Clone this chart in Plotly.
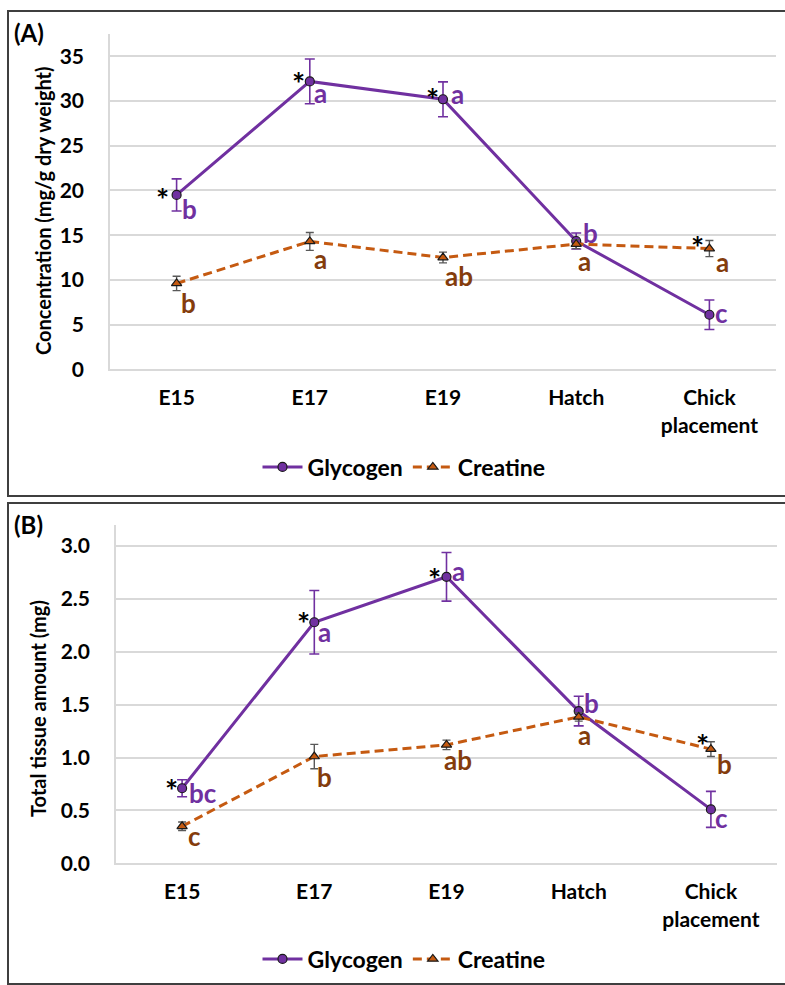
import plotly.graph_objects as go

# ---------------- data ----------------
categories = ["E15", "E17", "E19", "Hatch", "Chick placement"]
tick_labels = ["E15", "E17", "E19", "Hatch", "Chick<br>placement"]

# Panel A: concentration (mg/g dry weight)
glycogen_A = [19.5, 32.2, 30.2, 14.35, 6.1]
glycogen_A_err = [1.8, 2.5, 1.95, 0.9, 1.65]
creatine_A = [9.6, 14.3, 12.5, 14.0, 13.5]
creatine_A_err = [0.8, 1.0, 0.6, 0.5, 0.9]
glycogen_A_letters = ["b", "a", "a", "b", "c"]
creatine_A_letters = ["b", "a", "ab", "a", "a"]
glycogen_A_star = [True, True, True, False, False]
creatine_A_star = [False, False, False, False, True]

# Panel B: total tissue amount (mg)
glycogen_B = [0.71, 2.28, 2.71, 1.44, 0.51]
glycogen_B_err = [0.08, 0.30, 0.23, 0.14, 0.17]
creatine_B = [0.35, 1.01, 1.12, 1.385, 1.08]
creatine_B_err = [0.04, 0.115, 0.045, 0.04, 0.07]
glycogen_B_letters = ["bc", "a", "a", "b", "c"]
creatine_B_letters = ["c", "b", "ab", "a", "b"]
glycogen_B_star = [True, True, True, False, False]
creatine_B_star = [False, False, False, False, True]

y_ticks_A = [0, 5, 10, 15, 20, 25, 30, 35]
y_ticks_B = [0.0, 0.5, 1.0, 1.5, 2.0, 2.5, 3.0]

# ---------------- styles ----------------
W, H = 785, 985
PURPLE = "#7030A0"
ORANGE = "#C55A11"
BROWN = "#843C0C"
GRID = "#D9D9D9"
FONT = "Lato"

# label offsets (px; dx right, dy down)
gly_A_off = [(13, 14), (11, 12), (14, -5), (14, -8), (12, -2)]
cre_A_off = [(12, 20), (11, 18), (16, 18), (8, 17), (13, 13)]
gly_A_star_off = [(-14, -4), (-11, -6), (-11, -8), None, None]
cre_A_star_off = [None, None, None, None, (-12, -10)]

gly_B_off = [(21, 5), (10, 10), (12, -6), (13, -8), (11, 9)]
cre_B_off = [(12, 10), (10, 20), (11, 15), (6, 18), (14, 15)]
gly_B_star_off = [(-11, -6), (-11, -7), (-12, -6), None, None]
cre_B_star_off = [None, None, None, None, (-8, -12)]

fig = go.Figure()


def add_series(xa, ya, legend, gly, gly_err, cre, cre_err):
    fig.add_trace(go.Scatter(
        x=categories, y=gly, name="Glycogen", mode="lines+markers",
        xaxis=xa, yaxis=ya, legend=legend,
        line=dict(color=PURPLE, width=3),
        marker=dict(symbol="circle", size=9, color=PURPLE,
                    line=dict(color="#1a1a1a", width=1.2)),
        error_y=dict(type="data", array=gly_err, color=PURPLE,
                     thickness=1.6, width=5),
    ))
    fig.add_trace(go.Scatter(
        x=categories, y=cre, name="Creatine", mode="lines+markers",
        xaxis=xa, yaxis=ya, legend=legend,
        line=dict(color=ORANGE, width=3, dash="9px,5px"),
        marker=dict(symbol="triangle-up", size=9, color=ORANGE,
                    line=dict(color="#1a1a1a", width=1.2)),
        error_y=dict(type="data", array=cre_err, color="#595959",
                     thickness=1.4, width=4),
    ))


add_series("x", "y", "legend", glycogen_A, glycogen_A_err, creatine_A, creatine_A_err)
add_series("x2", "y2", "legend2", glycogen_B, glycogen_B_err, creatine_B, creatine_B_err)

annotations = []


def add_labels(xr, yr, vals, letters, offs, color):
    for c, v, t, (dx, dy) in zip(categories, vals, letters, offs):
        annotations.append(dict(
            x=c, y=v, xref=xr, yref=yr, text=t, showarrow=False,
            xanchor="center", yanchor="middle", xshift=dx, yshift=-dy,
            font=dict(family=FONT, size=26, color=color, weight="bold"),
        ))


def add_stars(xr, yr, vals, flags, offs):
    for c, v, f, o in zip(categories, vals, flags, offs):
        if f and o:
            dx, dy = o
            annotations.append(dict(
                x=c, y=v, xref=xr, yref=yr, text="*", showarrow=False,
                xanchor="center", yanchor="middle", xshift=dx, yshift=-(dy + 8),
                font=dict(family=FONT, size=31, color="black", weight="bold"),
            ))


add_labels("x", "y", glycogen_A, glycogen_A_letters, gly_A_off, PURPLE)
add_labels("x", "y", creatine_A, creatine_A_letters, cre_A_off, BROWN)
add_stars("x", "y", glycogen_A, glycogen_A_star, gly_A_star_off)
add_stars("x", "y", creatine_A, creatine_A_star, cre_A_star_off)
add_labels("x2", "y2", glycogen_B, glycogen_B_letters, gly_B_off, PURPLE)
add_labels("x2", "y2", creatine_B, creatine_B_letters, cre_B_off, BROWN)
add_stars("x2", "y2", glycogen_B, glycogen_B_star, gly_B_star_off)
add_stars("x2", "y2", creatine_B, creatine_B_star, cre_B_star_off)

# panel tags and axis titles
tag_font = dict(family=FONT, size=24, color="black", weight="bold")
title_font = dict(family=FONT, size=20, color="black", weight="bold")
annotations += [
    dict(x=29 / W, y=1 - 32 / H, xref="paper", yref="paper", text="(A)",
         showarrow=False, xanchor="center", yanchor="middle", font=tag_font),
    dict(x=28 / W, y=1 - 524 / H, xref="paper", yref="paper", text="(B)",
         showarrow=False, xanchor="center", yanchor="middle", font=tag_font),
    dict(x=43 / W, y=1 - 211 / H, xref="paper", yref="paper",
         text="Concentration (mg/g dry weight)", textangle=-90,
         showarrow=False, xanchor="center", yanchor="middle", font=title_font),
    dict(x=38 / W, y=1 - 709 / H, xref="paper", yref="paper",
         text="Total tissue amount (mg)", textangle=-90,
         showarrow=False, xanchor="center", yanchor="middle", font=title_font),
]

tick_font = dict(family=FONT, size=21, color="black", weight="bold")

xaxis_common = dict(
    type="category", range=[-0.5, 4.5], tickvals=categories, ticktext=tick_labels,
    showgrid=False, showline=True, linecolor=GRID, linewidth=1.5,
    ticks="", tickfont=tick_font, ticklabelstandoff=9, zeroline=False,
    fixedrange=True, automargin=False,
)
yaxis_common = dict(
    showgrid=True, gridcolor=GRID, gridwidth=1.5, showline=True,
    linecolor=GRID, linewidth=1.5, ticks="", tickfont=tick_font,
    ticklabelstandoff=20, zeroline=False, automargin=False,
)

legend_font = dict(family=FONT, size=23, color="black", weight="bold")

fig.update_layout(
    width=W, height=H, margin=dict(l=0, r=0, t=0, b=0, autoexpand=False),
    paper_bgcolor="white", plot_bgcolor="white",
    xaxis=dict(xaxis_common, domain=[110 / W, 776 / W], anchor="y"),
    yaxis=dict(yaxis_common, domain=[1 - 369.3 / H, 1 - 34 / H], anchor="x",
               range=[0, 37.5], tickvals=y_ticks_A,
               ticktext=[str(v) for v in y_ticks_A]),
    xaxis2=dict(xaxis_common, domain=[116 / W, 777 / W], anchor="y2"),
    yaxis2=dict(yaxis_common, domain=[1 - 863.3 / H, 1 - 525 / H], anchor="x2",
                range=[0, 3.2], tickvals=y_ticks_B,
                ticktext=[f"{v:.1f}" for v in y_ticks_B]),
    legend=dict(orientation="h", x=404 / W, y=1 - 467 / H, xanchor="center",
                yanchor="middle", font=legend_font, xref="container",
                yref="container", bgcolor="rgba(0,0,0,0)", itemwidth=40),
    legend2=dict(orientation="h", x=404 / W, y=1 - 959 / H, xanchor="center",
                 yanchor="middle", font=legend_font, xref="container",
                 yref="container", bgcolor="rgba(0,0,0,0)", itemwidth=40),
    annotations=annotations,
    shapes=[
        dict(type="rect", xref="paper", yref="paper", x0=8 / W, x1=1.01,
             y0=1 - 496 / H, y1=1 - 11 / H, line=dict(color="#3F3F3F", width=2)),
        dict(type="rect", xref="paper", yref="paper", x0=8 / W, x1=1.01,
             y0=1 - 984 / H, y1=1 - 503 / H, line=dict(color="#3F3F3F", width=2)),
    ],
    showlegend=True,
)

fig.write_html(
    "out.html",
    config={"displayModeBar": False},
    post_script="document.body.style.margin='0px';document.body.style.overflow='hidden';",
)
